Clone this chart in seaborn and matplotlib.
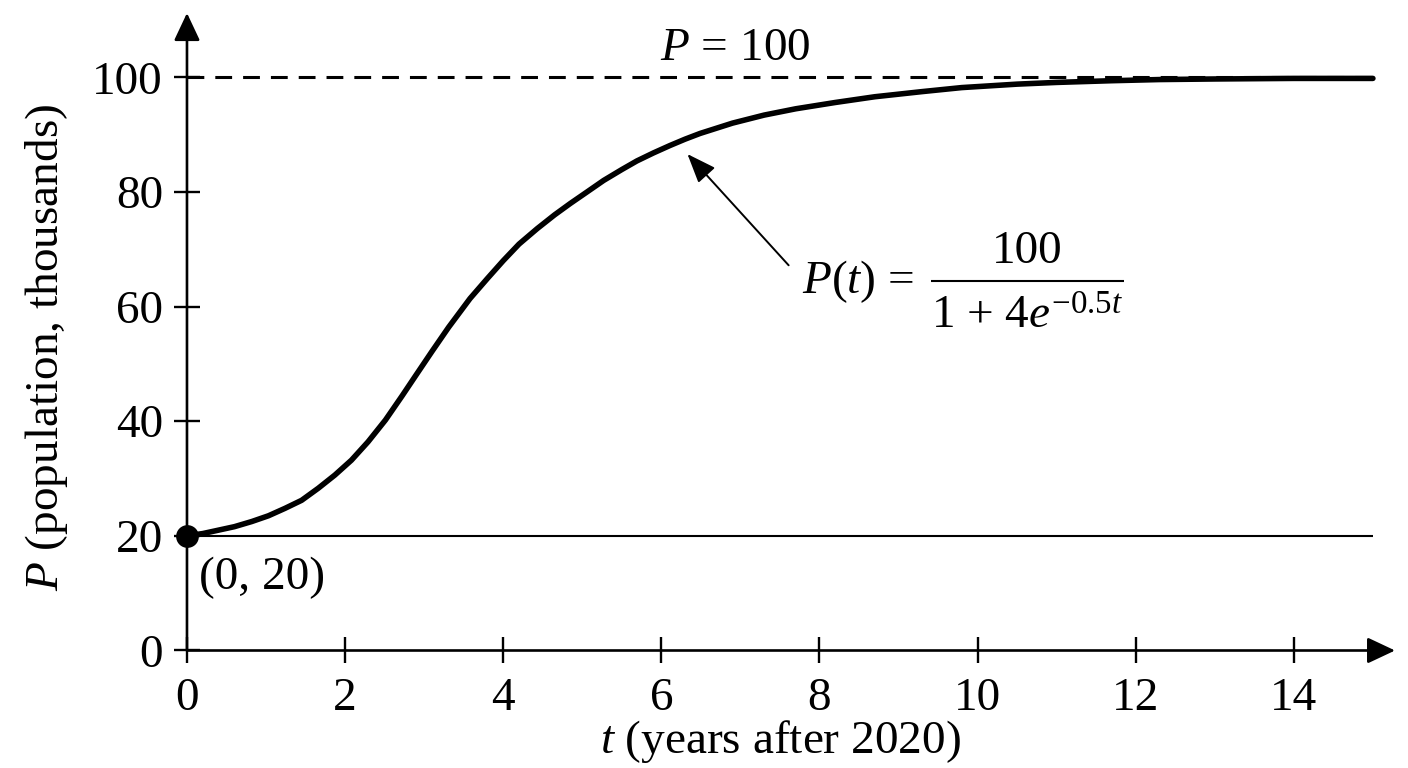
import matplotlib
matplotlib.use("Agg")

import matplotlib.pyplot as plt
import seaborn as sns
from matplotlib.patches import ArrowStyle


# =========================================================
# DATA
# =========================================================

t_years = [0.0, 0.2, 0.4, 0.6, 0.82, 1.03, 1.24, 1.45, 1.66, 1.87,
           2.08, 2.29, 2.51, 2.72, 2.89, 3.1, 3.31, 3.58, 3.8, 4.0,
           4.2, 4.43, 4.65, 4.85, 5.05, 5.27, 5.5, 5.69, 5.9, 6.11,
           6.3, 6.49, 6.9, 7.3, 7.7, 8.2, 8.7, 9.3, 9.8, 10.5,
           11.0, 11.7, 12.3, 13.0, 14.0, 15.0]

population = [20.0, 20.4, 21.0, 21.6, 22.5, 23.5, 24.8, 26.2, 28.3, 30.6,
              33.2, 36.4, 40.2, 44.4, 47.9, 52.2, 56.4, 61.4, 64.9, 68.0,
              70.9, 73.6, 76.0, 78.0, 79.9, 82.0, 83.9, 85.4, 86.8, 88.1,
              89.2, 90.2, 92.0, 93.4, 94.5, 95.6, 96.6, 97.5, 98.2, 98.8,
              99.1, 99.4, 99.6, 99.7, 99.8, 99.8]

start_point_t = [0]
start_point_p = [20]

carrying_capacity = 100
initial_level = 20
t_end = 15

x_ticks = [0, 2, 4, 6, 8, 10, 12, 14]
y_ticks = [0, 20, 40, 60, 80, 100]


# =========================================================
# STYLE
# =========================================================

sns.set_theme(style="white")

plt.rcParams["font.family"] = ["Liberation Serif", "DejaVu Serif"]
plt.rcParams["mathtext.fontset"] = "custom"
plt.rcParams["mathtext.rm"] = "Liberation Serif"
plt.rcParams["mathtext.it"] = "Liberation Serif:italic"
plt.rcParams["mathtext.bf"] = "Liberation Serif:bold"

font_size = 34


# =========================================================
# FIGURE
# =========================================================

fig = plt.figure(figsize=(14.08, 7.68), dpi=100)

ax = fig.add_axes([0.1328, 0.153, 0.858, 0.830])

ax.set_xlim(0, 15.28)
ax.set_ylim(0, 111.2)

for side in ["top", "right", "left", "bottom"]:
    ax.spines[side].set_visible(False)

# axis lines with arrow heads
axis_arrow = ArrowStyle("-|>", head_length=17, head_width=8)

for tip in [(1, 0), (0, 1)]:
    ax.annotate(
        "",
        xy=tip,
        xytext=(0, 0),
        xycoords="axes fraction",
        arrowprops=dict(arrowstyle=axis_arrow, mutation_scale=1,
                        lw=1.9, color="black", shrinkA=0, shrinkB=0),
        annotation_clip=False
    )

# reference lines
ax.hlines(
    initial_level, 0, t_end,
    color="black", lw=1.5, zorder=2
)

ax.hlines(
    carrying_capacity, 0, t_end,
    color="black", lw=2.2, linestyles=(0, (5.5, 3.6)), zorder=2
)

# logistic curve
sns.lineplot(
    x=t_years,
    y=population,
    ax=ax,
    color="black",
    lw=4,
    zorder=3
)

sns.scatterplot(
    x=start_point_t,
    y=start_point_p,
    ax=ax,
    color="black",
    s=230,
    edgecolor="black",
    zorder=4,
    clip_on=False
)

# ticks
ax.set_xticks(x_ticks)
ax.set_xticklabels([str(v) for v in x_ticks])
ax.set_yticks(y_ticks)
ax.set_yticklabels([str(v) for v in y_ticks])

ax.tick_params(
    axis="both",
    direction="inout",
    length=18.7,
    width=1.7,
    color="black",
    labelsize=font_size,
    labelcolor="black"
)
ax.tick_params(axis="x", pad=10, bottom=True)
ax.tick_params(axis="y", pad=8, left=True)

# axis labels
ax.set_xlabel("$t$ (years after 2020)", fontsize=font_size, color="black")
ax.xaxis.set_label_coords(0.491, -0.106)

ax.set_ylabel("$P$ (population, thousands)", fontsize=font_size, color="black")
ax.yaxis.set_label_coords(-0.097, 0.476)

# annotations
ax.text(
    6.93, 103.0,
    "$P$ = 100",
    fontsize=font_size,
    ha="center",
    va="baseline",
    color="black"
)

ax.text(
    0.15, 10.7,
    "(0, 20)",
    fontsize=font_size,
    ha="left",
    va="baseline",
    color="black"
)

ax.annotate(
    "",
    xy=(6.33, 86.6),
    xytext=(7.61, 67.2),
    arrowprops=dict(
        arrowstyle=ArrowStyle("-|>", head_length=18, head_width=7),
        mutation_scale=1,
        lw=1.4,
        color="black",
        shrinkA=0,
        shrinkB=0
    )
)

# formula P(t) = 100 / (1 + 4e^{-0.5t}) built from pieces
ax.text(
    7.78, 62.3,
    "$P$($t$) =",
    fontsize=font_size,
    ha="left",
    va="baseline",
    color="black"
)

ax.text(
    10.63, 67.6,
    "100",
    fontsize=font_size,
    ha="center",
    va="baseline",
    color="black"
)

ax.hlines(64.4, 9.41, 11.85, color="black", lw=1.5)

ax.text(
    10.63, 56.2,
    "1 + 4$e^{-0.5t}$",
    fontsize=font_size,
    ha="center",
    va="baseline",
    color="black"
)

plt.savefig("out.png", dpi=100)

plt.close()
